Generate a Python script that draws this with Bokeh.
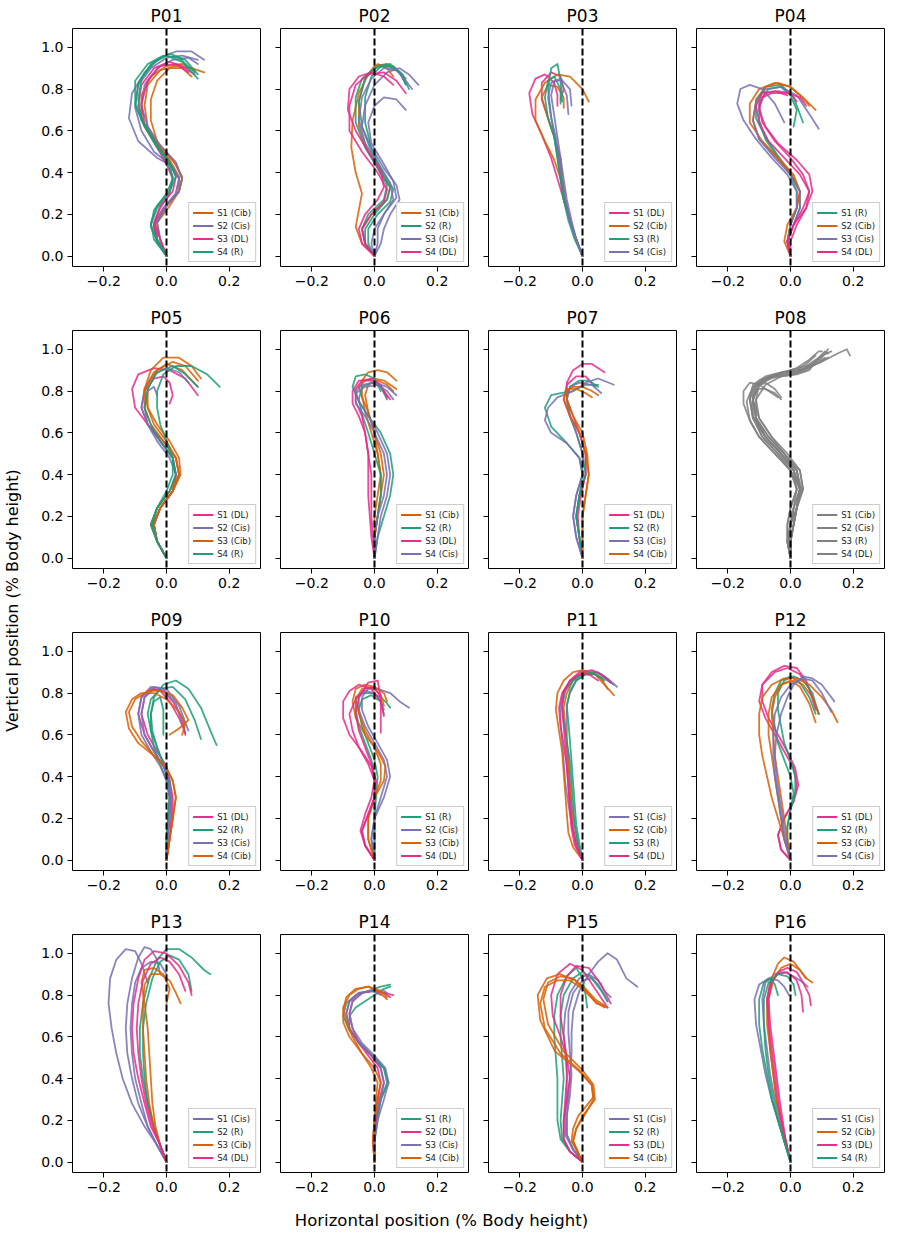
import math
from bokeh.plotting import figure
from bokeh.layouts import gridplot, row, column
from bokeh.models import (Span, Legend, LegendItem, FixedTicker, Range1d,
                          CustomJSTickFormatter, Label)
from bokeh.embed import file_html
from bokeh.resources import INLINE

# ---------------- data ----------------
# each trial: (session index, [(x, y), ...]) ; x, y in % body height

P01_SESSIONS = ["S1 (Cib)", "S2 (Cis)", "S3 (DL)", "S4 (R)"]
P01_TRIALS = [
    (0, [(0,0),(-0.03,0.07),(-0.04,0.15),(-0.01,0.23),(0.04,0.31),(0.05,0.37),(0.03,0.44),(-0.02,0.52),(-0.06,0.62),(-0.07,0.72),(-0.06,0.82),(-0.02,0.89),(0.03,0.91),(0.08,0.9),(0.12,0.88)]),
    (0, [(0,0),(-0.02,0.08),(-0.03,0.16),(0.0,0.24),(0.04,0.31),(0.05,0.38),(0.02,0.46),(-0.03,0.55),(-0.05,0.65),(-0.05,0.75),(-0.03,0.84),(0.01,0.9),(0.05,0.9),(0.08,0.86)]),
    (0, [(0,0),(-0.03,0.08),(-0.03,0.16),(0.01,0.24),(0.04,0.31),(0.04,0.38),(0.01,0.46),(-0.04,0.56),(-0.08,0.66),(-0.08,0.77),(-0.05,0.86),(0.0,0.91),(0.05,0.92),(0.09,0.89)]),
    (1, [(0,0),(-0.03,0.07),(-0.04,0.14),(-0.01,0.22),(0.03,0.3),(0.04,0.37),(0.02,0.43),(-0.03,0.47),(-0.09,0.55),(-0.12,0.66),(-0.11,0.78),(-0.07,0.88),(-0.02,0.95),(0.03,0.98),(0.08,0.98),(0.12,0.94)]),
    (1, [(0,0),(-0.03,0.08),(-0.04,0.15),(-0.01,0.23),(0.03,0.3),(0.04,0.37),(0.01,0.44),(-0.04,0.5),(-0.08,0.6),(-0.1,0.71),(-0.09,0.82),(-0.05,0.9),(0.0,0.95),(0.05,0.96),(0.1,0.94)]),
    (1, [(0,0),(-0.02,0.08),(-0.03,0.16),(0.0,0.24),(0.04,0.31),(0.05,0.37),(0.03,0.45),(-0.02,0.53),(-0.06,0.62),(-0.08,0.72),(-0.07,0.82),(-0.03,0.9),(0.02,0.94),(0.07,0.95),(0.1,0.92)]),
    (2, [(0,0),(-0.03,0.08),(-0.04,0.15),(-0.02,0.23),(0.01,0.3),(0.02,0.37),(0.0,0.44),(-0.03,0.52),(-0.07,0.62),(-0.09,0.72),(-0.08,0.82),(-0.04,0.9),(0.01,0.93),(0.05,0.91),(0.09,0.87)]),
    (2, [(0,0),(-0.02,0.08),(-0.04,0.16),(-0.02,0.24),(0.02,0.31),(0.03,0.38),(0.01,0.45),(-0.03,0.53),(-0.07,0.63),(-0.08,0.73),(-0.06,0.84),(-0.02,0.91),(0.03,0.92),(0.07,0.88)]),
    (3, [(0,0),(-0.03,0.07),(-0.05,0.14),(-0.04,0.22),(0.0,0.3),(0.02,0.37),(0.01,0.44),(-0.03,0.52),(-0.07,0.62),(-0.1,0.72),(-0.09,0.83),(-0.05,0.92),(0.0,0.96),(0.05,0.93),(0.1,0.85)]),
    (3, [(0,0),(-0.03,0.08),(-0.05,0.15),(-0.03,0.23),(0.01,0.31),(0.03,0.38),(0.01,0.45),(-0.03,0.53),(-0.07,0.63),(-0.1,0.73),(-0.1,0.84),(-0.06,0.92),(-0.01,0.96),(0.04,0.95),(0.09,0.88)]),
    (3, [(0,0),(-0.04,0.08),(-0.05,0.16),(-0.03,0.24),(0.01,0.31),(0.02,0.38),(0.0,0.46),(-0.04,0.55),(-0.08,0.65),(-0.09,0.75),(-0.08,0.85),(-0.04,0.93),(0.01,0.97),(0.06,0.94),(0.1,0.87)]),
]

P02_SESSIONS = ["S1 (Cib)", "S2 (R)", "S3 (Cis)", "S4 (DL)"]
P02_TRIALS = [
    (0, [(0,0),(-0.04,0.06),(-0.06,0.14),(-0.05,0.22),(-0.04,0.3),(-0.06,0.4),(-0.074,0.52),(-0.07,0.65),(-0.05,0.78),(-0.02,0.87),(0.01,0.92),(0.04,0.9),(0.06,0.86)]),
    (0, [(0,0),(-0.03,0.06),(-0.04,0.13),(-0.01,0.2),(0.04,0.27),(0.05,0.33),(0.02,0.4),(-0.02,0.5),(-0.05,0.62),(-0.05,0.74),(-0.03,0.85),(0.0,0.91),(0.04,0.92),(0.08,0.88),(0.1,0.83)]),
    (1, [(0,0),(-0.02,0.06),(-0.02,0.13),(0.01,0.2),(0.05,0.26),(0.06,0.32),(0.03,0.4),(-0.01,0.5),(-0.04,0.62),(-0.05,0.74),(-0.03,0.85),(0.01,0.91),(0.05,0.92),(0.08,0.88),(0.1,0.82)]),
    (1, [(0,0),(-0.03,0.06),(-0.03,0.13),(0.0,0.2),(0.04,0.27),(0.05,0.33),(0.02,0.41),(-0.01,0.52),(-0.03,0.64),(-0.03,0.76),(-0.01,0.86),(0.02,0.91),(0.06,0.91),(0.09,0.87),(0.11,0.8)]),
    (1, [(0,0),(-0.03,0.06),(-0.04,0.13),(-0.02,0.2),(0.03,0.27),(0.04,0.34),(0.01,0.42),(-0.03,0.52),(-0.06,0.64),(-0.06,0.76),(-0.04,0.85),(0.0,0.9),(0.04,0.91),(0.07,0.89),(0.1,0.85)]),
    (2, [(0,0),(0.02,0.06),(0.03,0.13),(0.05,0.2),(0.08,0.27),(0.07,0.34),(0.03,0.42),(-0.01,0.52),(-0.04,0.62),(-0.03,0.72),(0.0,0.82),(0.04,0.88),(0.08,0.9),(0.11,0.87),(0.14,0.82)]),
    (2, [(0,0),(-0.01,0.06),(0.0,0.13),(0.03,0.2),(0.07,0.28),(0.06,0.36),(0.03,0.44),(-0.01,0.54),(-0.02,0.64),(0.0,0.72),(0.03,0.76),(0.07,0.75),(0.1,0.7)]),
    (2, [(0,0),(0.01,0.06),(0.01,0.13),(0.03,0.2),(0.06,0.27),(0.05,0.35),(0.01,0.44),(-0.03,0.54),(-0.05,0.65),(-0.04,0.76),(-0.01,0.85),(0.03,0.9),(0.07,0.89),(0.1,0.84),(0.12,0.8)]),
    (3, [(0,0),(-0.03,0.06),(-0.04,0.13),(-0.01,0.2),(0.03,0.26),(0.04,0.32),(0.01,0.4),(-0.04,0.5),(-0.08,0.6),(-0.08,0.72),(-0.06,0.82),(-0.02,0.87),(0.03,0.88),(0.07,0.84),(0.1,0.78)]),
    (3, [(0,0),(-0.04,0.06),(-0.05,0.13),(-0.03,0.2),(0.01,0.27),(0.03,0.33),(0.02,0.41),(-0.02,0.5),(-0.06,0.6),(-0.085,0.7),(-0.08,0.8),(-0.05,0.86),(-0.01,0.88),(0.03,0.86),(0.06,0.82)]),
]

P03_SESSIONS = ["S1 (DL)", "S2 (Cib)", "S3 (R)", "S4 (Cis)"]
P03_TRIALS = [
    (0, [(0,0),(-0.02,0.08),(-0.04,0.17),(-0.06,0.27),(-0.08,0.37),(-0.1,0.47),(-0.13,0.58),(-0.16,0.68),(-0.17,0.78),(-0.15,0.85),(-0.12,0.87),(-0.09,0.83),(-0.08,0.77),(-0.08,0.72)]),
    (0, [(0,0),(-0.02,0.08),(-0.04,0.17),(-0.055,0.27),(-0.065,0.37),(-0.07,0.47),(-0.09,0.57),(-0.11,0.66),(-0.13,0.75),(-0.13,0.83),(-0.1,0.88),(-0.07,0.86),(-0.06,0.8),(-0.07,0.75)]),
    (1, [(0,0),(-0.02,0.08),(-0.04,0.17),(-0.06,0.27),(-0.07,0.37),(-0.09,0.46),(-0.12,0.55),(-0.15,0.65),(-0.15,0.75),(-0.12,0.83),(-0.08,0.87),(-0.04,0.86),(0.0,0.8),(0.02,0.74)]),
    (1, [(0,0),(-0.02,0.08),(-0.04,0.17),(-0.055,0.27),(-0.065,0.37),(-0.075,0.47),(-0.09,0.57),(-0.11,0.66),(-0.13,0.76),(-0.11,0.82),(-0.08,0.81),(-0.06,0.76),(-0.06,0.71)]),
    (2, [(0,0),(-0.025,0.08),(-0.045,0.17),(-0.06,0.27),(-0.07,0.37),(-0.08,0.47),(-0.09,0.57),(-0.1,0.67),(-0.11,0.8),(-0.1,0.9),(-0.08,0.92),(-0.07,0.84),(-0.065,0.74)]),
    (2, [(0,0),(-0.02,0.08),(-0.04,0.17),(-0.06,0.27),(-0.07,0.37),(-0.08,0.47),(-0.09,0.57),(-0.11,0.66),(-0.12,0.76),(-0.11,0.84),(-0.09,0.86),(-0.07,0.8),(-0.07,0.73)]),
    (3, [(0,0),(-0.02,0.08),(-0.035,0.17),(-0.05,0.27),(-0.06,0.37),(-0.07,0.47),(-0.08,0.57),(-0.09,0.67),(-0.1,0.77),(-0.09,0.84),(-0.07,0.84),(-0.05,0.77),(-0.045,0.68)]),
    (3, [(0,0),(-0.02,0.08),(-0.04,0.17),(-0.055,0.27),(-0.065,0.37),(-0.075,0.47),(-0.085,0.57),(-0.1,0.66),(-0.11,0.76),(-0.1,0.83),(-0.07,0.85),(-0.04,0.8),(-0.035,0.72)]),
]

P04_SESSIONS = ["S1 (R)", "S2 (Cib)", "S3 (Cis)", "S4 (DL)"]
P04_TRIALS = [
    (0, [(0,0),(-0.01,0.07),(0.0,0.15),(0.02,0.23),(0.02,0.31),(0.0,0.39),(-0.04,0.47),(-0.08,0.56),(-0.1,0.65),(-0.1,0.74),(-0.07,0.8),(-0.03,0.81),(0.0,0.77),(0.02,0.7),(0.01,0.62)]),
    (0, [(0,0),(-0.01,0.07),(0.01,0.15),(0.03,0.23),(0.03,0.31),(0.0,0.4),(-0.04,0.48),(-0.08,0.57),(-0.11,0.66),(-0.11,0.75),(-0.08,0.81),(-0.03,0.82),(0.01,0.76),(0.04,0.64)]),
    (1, [(0,0),(-0.01,0.07),(0.0,0.15),(0.02,0.23),(0.03,0.31),(0.01,0.39),(-0.04,0.47),(-0.09,0.55),(-0.13,0.64),(-0.13,0.73),(-0.1,0.8),(-0.05,0.83),(0.0,0.81),(0.04,0.76),(0.08,0.7)]),
    (1, [(0,0),(-0.02,0.07),(-0.01,0.15),(0.02,0.23),(0.03,0.31),(0.0,0.4),(-0.05,0.48),(-0.1,0.56),(-0.12,0.65),(-0.11,0.74),(-0.08,0.81),(-0.04,0.83),(0.0,0.81),(0.03,0.77),(0.06,0.72)]),
    (2, [(0,0),(-0.01,0.07),(0.0,0.15),(0.02,0.23),(0.02,0.31),(-0.01,0.39),(-0.06,0.47),(-0.11,0.56),(-0.15,0.65),(-0.17,0.73),(-0.16,0.8),(-0.13,0.82),(-0.09,0.8),(-0.05,0.73),(-0.02,0.64)]),
    (2, [(0,0),(-0.01,0.07),(0.01,0.15),(0.03,0.23),(0.03,0.31),(0.0,0.39),(-0.05,0.47),(-0.1,0.56),(-0.12,0.65),(-0.11,0.74),(-0.08,0.8),(-0.03,0.81),(0.02,0.77),(0.06,0.68),(0.09,0.61)]),
    (3, [(0,0),(-0.01,0.07),(0.01,0.15),(0.05,0.23),(0.07,0.31),(0.06,0.39),(0.02,0.46),(-0.04,0.54),(-0.08,0.62),(-0.1,0.7),(-0.09,0.76),(-0.06,0.78),(-0.01,0.78),(0.03,0.76),(0.05,0.72)]),
    (3, [(0,0),(-0.01,0.07),(0.01,0.15),(0.04,0.23),(0.06,0.31),(0.04,0.39),(0.0,0.47),(-0.05,0.55),(-0.09,0.64),(-0.1,0.72),(-0.08,0.78),(-0.04,0.79),(0.0,0.78),(0.02,0.74)]),
    (3, [(0,0),(0.0,0.07),(0.02,0.15),(0.05,0.23),(0.06,0.31),(0.03,0.39),(-0.02,0.47),(-0.07,0.55),(-0.1,0.64),(-0.11,0.72),(-0.09,0.78),(-0.05,0.79),(-0.01,0.77)]),
]

P05_SESSIONS = ["S1 (DL)", "S2 (Cis)", "S3 (Cib)", "S4 (R)"]
P05_TRIALS = [
    (0, [(0,0),(-0.03,0.08),(-0.04,0.16),(-0.02,0.24),(0.02,0.32),(0.04,0.4),(0.03,0.48),(-0.01,0.56),(-0.06,0.64),(-0.1,0.72),(-0.11,0.81),(-0.09,0.88),(-0.04,0.91),(0.01,0.9),(0.06,0.86),(0.1,0.78)]),
    (0, [(0,0),(-0.03,0.08),(-0.04,0.16),(-0.02,0.24),(0.02,0.32),(0.03,0.4),(0.02,0.48),(-0.02,0.56),(-0.06,0.64),(-0.08,0.72),(-0.07,0.8),(-0.04,0.86),(-0.01,0.87),(0.01,0.84),(0.02,0.78),(0.01,0.74)]),
    (1, [(0,0),(-0.03,0.08),(-0.05,0.16),(-0.03,0.24),(0.01,0.32),(0.03,0.4),(0.02,0.48),(-0.02,0.56),(-0.06,0.64),(-0.08,0.72),(-0.07,0.81),(-0.04,0.88),(0.0,0.91),(0.04,0.89),(0.07,0.84)]),
    (1, [(0,0),(-0.03,0.08),(-0.04,0.16),(-0.02,0.24),(0.02,0.32),(0.03,0.4),(0.01,0.48),(-0.03,0.56),(-0.06,0.64),(-0.07,0.72),(-0.06,0.8),(-0.04,0.82),(-0.03,0.78)]),
    (2, [(0,0),(-0.03,0.08),(-0.04,0.16),(-0.02,0.24),(0.02,0.32),(0.045,0.4),(0.04,0.48),(0.01,0.56),(-0.03,0.64),(-0.06,0.72),(-0.07,0.81),(-0.05,0.9),(-0.01,0.96),(0.04,0.96),(0.08,0.92),(0.11,0.86)]),
    (2, [(0,0),(-0.03,0.08),(-0.05,0.16),(-0.03,0.24),(0.01,0.32),(0.04,0.4),(0.03,0.48),(-0.01,0.56),(-0.05,0.64),(-0.07,0.72),(-0.07,0.81),(-0.04,0.89),(0.0,0.93),(0.05,0.9),(0.1,0.82)]),
    (2, [(0,0),(-0.03,0.08),(-0.045,0.16),(-0.02,0.24),(0.02,0.32),(0.04,0.4),(0.03,0.48),(0.0,0.56),(-0.04,0.64),(-0.06,0.72),(-0.06,0.81),(-0.03,0.9),(0.02,0.94),(0.06,0.92),(0.1,0.85)]),
    (3, [(0,0),(-0.03,0.08),(-0.045,0.16),(-0.03,0.24),(0.0,0.32),(0.02,0.4),(0.02,0.48),(0.0,0.56),(-0.02,0.64),(-0.03,0.72),(-0.03,0.8),(-0.01,0.88),(0.03,0.92),(0.08,0.92),(0.13,0.88),(0.17,0.82)]),
    (3, [(0,0),(-0.03,0.08),(-0.05,0.16),(-0.03,0.24),(0.01,0.32),(0.03,0.4),(0.02,0.48),(-0.02,0.56),(-0.05,0.64),(-0.07,0.72),(-0.06,0.81),(-0.03,0.89),(0.02,0.92),(0.06,0.88),(0.1,0.82)]),
]

P06_SESSIONS = ["S1 (Cib)", "S2 (R)", "S3 (DL)", "S4 (Cis)"]
P06_TRIALS = [
    (0, [(0,0),(0.0,0.1),(0.01,0.2),(0.02,0.3),(0.02,0.4),(0.01,0.5),(-0.01,0.6),(-0.03,0.7),(-0.04,0.78),(-0.04,0.85),(-0.02,0.89),(0.01,0.9),(0.04,0.89),(0.07,0.85)]),
    (0, [(0,0),(0.0,0.1),(0.0,0.2),(0.01,0.3),(0.02,0.4),(0.01,0.5),(0.0,0.6),(-0.02,0.7),(-0.04,0.77),(-0.05,0.82),(-0.03,0.85),(0.0,0.86),(0.03,0.85),(0.07,0.81)]),
    (0, [(0,0),(0.0,0.1),(0.01,0.2),(0.02,0.3),(0.03,0.4),(0.02,0.5),(0.0,0.6),(-0.02,0.7),(-0.03,0.78),(-0.02,0.83),(0.01,0.85),(0.04,0.83),(0.06,0.8)]),
    (1, [(0,0),(0.01,0.1),(0.03,0.2),(0.05,0.3),(0.06,0.4),(0.05,0.5),(0.02,0.6),(-0.02,0.68),(-0.05,0.75),(-0.07,0.82),(-0.06,0.87),(-0.03,0.88),(0.0,0.86),(0.02,0.8)]),
    (1, [(0,0),(0.0,0.1),(0.01,0.2),(0.02,0.3),(0.02,0.4),(0.0,0.5),(-0.02,0.6),(-0.04,0.69),(-0.05,0.76),(-0.04,0.82),(-0.01,0.84),(0.02,0.82),(0.04,0.76)]),
    (2, [(0,0),(-0.01,0.1),(-0.015,0.2),(-0.02,0.3),(-0.02,0.4),(-0.02,0.5),(-0.03,0.6),(-0.04,0.68),(-0.06,0.75),(-0.06,0.81),(-0.04,0.85),(-0.01,0.86),(0.02,0.83),(0.04,0.77)]),
    (2, [(0,0),(-0.005,0.1),(-0.01,0.2),(-0.01,0.3),(-0.01,0.4),(-0.02,0.5),(-0.03,0.6),(-0.05,0.68),(-0.07,0.74),(-0.07,0.8),(-0.05,0.85),(-0.01,0.85),(0.02,0.82),(0.05,0.76)]),
    (3, [(0,0),(0.01,0.1),(0.02,0.2),(0.04,0.3),(0.05,0.4),(0.04,0.5),(0.01,0.6),(-0.02,0.68),(-0.05,0.75),(-0.06,0.8),(-0.04,0.83),(0.0,0.84),(0.04,0.82),(0.07,0.78)]),
    (3, [(0,0),(0.0,0.1),(0.01,0.2),(0.03,0.3),(0.04,0.4),(0.03,0.5),(0.0,0.6),(-0.03,0.68),(-0.06,0.74),(-0.06,0.79),(-0.03,0.82),(0.01,0.83),(0.04,0.8),(0.06,0.76)]),
]

P07_SESSIONS = ["S1 (DL)", "S2 (R)", "S3 (Cis)", "S4 (Cib)"]
P07_TRIALS = [
    (0, [(0,0),(-0.01,0.1),(-0.02,0.2),(-0.01,0.3),(0.01,0.4),(0.01,0.5),(-0.01,0.6),(-0.03,0.68),(-0.05,0.76),(-0.05,0.84),(-0.03,0.9),(0.0,0.93),(0.03,0.93),(0.07,0.89)]),
    (0, [(0,0),(-0.01,0.1),(-0.015,0.2),(-0.005,0.3),(0.01,0.4),(0.01,0.5),(-0.01,0.6),(-0.04,0.68),(-0.06,0.76),(-0.05,0.83),(-0.02,0.87),(0.01,0.87),(0.04,0.82)]),
    (1, [(0,0),(-0.01,0.1),(-0.02,0.2),(-0.01,0.3),(0.0,0.4),(-0.01,0.48),(-0.05,0.55),(-0.1,0.63),(-0.12,0.72),(-0.1,0.78),(-0.07,0.79),(-0.03,0.8),(0.01,0.83),(0.05,0.83)]),
    (1, [(0,0),(-0.01,0.1),(-0.02,0.2),(-0.01,0.3),(0.01,0.4),(0.0,0.5),(-0.02,0.6),(-0.04,0.68),(-0.05,0.76),(-0.04,0.82),(-0.01,0.85),(0.02,0.85),(0.05,0.82)]),
    (2, [(0,0),(-0.02,0.1),(-0.03,0.2),(-0.02,0.3),(0.0,0.4),(-0.01,0.48),(-0.05,0.55),(-0.1,0.6),(-0.12,0.66),(-0.11,0.72),(-0.08,0.77),(-0.03,0.8),(0.01,0.84),(0.05,0.86),(0.1,0.83)]),
    (2, [(0,0),(-0.02,0.1),(-0.03,0.2),(-0.02,0.3),(0.0,0.4),(0.0,0.5),(-0.02,0.6),(-0.04,0.68),(-0.05,0.76),(-0.04,0.82),(-0.01,0.84),(0.03,0.83),(0.06,0.79)]),
    (3, [(0,0),(0.0,0.1),(0.0,0.2),(0.01,0.3),(0.02,0.4),(0.015,0.5),(0.0,0.6),(-0.03,0.68),(-0.05,0.76),(-0.05,0.8),(-0.03,0.82),(0.0,0.82),(0.03,0.8),(0.05,0.78)]),
    (3, [(0,0),(0.0,0.1),(0.0,0.2),(0.01,0.3),(0.02,0.4),(0.01,0.5),(-0.01,0.6),(-0.04,0.68),(-0.06,0.76),(-0.05,0.81),(-0.02,0.81),(0.01,0.79),(0.03,0.77)]),
]

P08_SESSIONS = ["S1 (Cib)", "S2 (Cis)", "S3 (R)", "S4 (DL)"]
P08_TRIALS = [
    (0, [(0,0),(0.0,0.08),(0.01,0.16),(0.02,0.24),(0.035,0.33),(0.02,0.42),(-0.03,0.5),(-0.08,0.58),(-0.12,0.68),(-0.13,0.78),(-0.1,0.85),(-0.05,0.88),(0.0,0.9),(0.05,0.92),(0.09,0.96),(0.11,0.99),(0.12,0.98)]),
    (0, [(0,0),(-0.01,0.08),(0.0,0.16),(0.01,0.24),(0.03,0.33),(0.01,0.42),(-0.04,0.5),(-0.09,0.58),(-0.12,0.68),(-0.12,0.78),(-0.09,0.85),(-0.04,0.88),(0.0,0.89),(0.05,0.91),(0.1,0.94),(0.15,0.98),(0.18,1.0),(0.19,0.97)]),
    (0, [(0,0),(-0.01,0.08),(0.0,0.16),(0.02,0.24),(0.03,0.33),(0.0,0.42),(-0.05,0.5),(-0.1,0.58),(-0.13,0.66),(-0.15,0.74),(-0.15,0.8),(-0.13,0.84),(-0.1,0.83),(-0.07,0.8),(-0.04,0.77)]),
    (1, [(0,0),(0.0,0.08),(0.01,0.16),(0.02,0.24),(0.04,0.33),(0.03,0.42),(-0.02,0.5),(-0.07,0.58),(-0.11,0.67),(-0.12,0.76),(-0.1,0.83),(-0.06,0.87),(-0.02,0.89),(0.02,0.91),(0.06,0.95),(0.09,0.99),(0.1,0.99)]),
    (1, [(0,0),(-0.01,0.08),(-0.01,0.16),(0.0,0.24),(0.02,0.33),(0.01,0.42),(-0.03,0.5),(-0.08,0.58),(-0.11,0.67),(-0.12,0.75),(-0.11,0.81),(-0.08,0.81),(-0.05,0.79),(-0.03,0.76)]),
    (1, [(0,0),(0.0,0.08),(0.01,0.16),(0.02,0.24),(0.03,0.33),(0.02,0.42),(-0.02,0.5),(-0.07,0.58),(-0.11,0.67),(-0.12,0.76),(-0.1,0.83),(-0.05,0.87),(0.0,0.88),(0.04,0.9),(0.08,0.93),(0.12,0.96)]),
    (2, [(0,0),(-0.01,0.08),(0.0,0.16),(0.01,0.24),(0.02,0.33),(0.0,0.42),(-0.04,0.5),(-0.09,0.58),(-0.12,0.67),(-0.13,0.76),(-0.11,0.83),(-0.07,0.87),(-0.02,0.89),(0.03,0.9),(0.07,0.93),(0.1,0.97),(0.13,0.99)]),
    (2, [(0,0),(0.0,0.08),(0.0,0.16),(0.01,0.24),(0.03,0.33),(0.01,0.42),(-0.03,0.5),(-0.08,0.58),(-0.11,0.67),(-0.11,0.76),(-0.08,0.83),(-0.03,0.87),(0.02,0.88),(0.06,0.9),(0.08,0.94),(0.1,0.97)]),
    (2, [(0,0),(-0.01,0.08),(-0.01,0.16),(0.0,0.24),(0.02,0.33),(0.0,0.42),(-0.05,0.5),(-0.1,0.58),(-0.13,0.66),(-0.14,0.75),(-0.12,0.82),(-0.07,0.86),(-0.03,0.87),(0.01,0.88),(0.05,0.9),(0.08,0.93),(0.11,0.96)]),
    (3, [(0,0),(0.0,0.08),(0.01,0.16),(0.02,0.24),(0.03,0.33),(0.02,0.42),(-0.02,0.5),(-0.06,0.58),(-0.1,0.67),(-0.11,0.76),(-0.1,0.83),(-0.06,0.87),(-0.02,0.88),(0.02,0.89),(0.06,0.92),(0.1,0.96),(0.12,1.0)]),
    (3, [(0,0),(-0.005,0.08),(0.0,0.16),(0.02,0.24),(0.04,0.33),(0.03,0.42),(-0.01,0.5),(-0.06,0.58),(-0.1,0.67),(-0.12,0.76),(-0.11,0.82),(-0.08,0.84),(-0.05,0.81),(-0.03,0.77)]),
    (3, [(0,0),(0.0,0.08),(0.01,0.16),(0.02,0.24),(0.03,0.33),(0.01,0.42),(-0.03,0.5),(-0.08,0.58),(-0.12,0.67),(-0.13,0.76),(-0.12,0.83),(-0.08,0.87),(-0.03,0.89),(0.02,0.9),(0.05,0.93),(0.08,0.97)]),
]

P09_SESSIONS = ["S1 (DL)", "S2 (R)", "S3 (Cis)", "S4 (Cib)"]
P09_TRIALS = [
    (0, [(0,0),(0.01,0.1),(0.015,0.2),(0.015,0.3),(0.01,0.38),(0.0,0.45),(-0.03,0.52),(-0.06,0.6),(-0.08,0.7),(-0.07,0.78),(-0.04,0.82),(-0.01,0.81),(0.02,0.76),(0.05,0.68),(0.06,0.6)]),
    (0, [(0,0),(0.01,0.1),(0.02,0.2),(0.02,0.3),(0.01,0.38),(-0.01,0.45),(-0.04,0.52),(-0.07,0.6),(-0.09,0.7),(-0.08,0.78),(-0.05,0.82),(-0.02,0.81),(0.01,0.76),(0.04,0.68),(0.06,0.61)]),
    (1, [(0,0),(0.0,0.1),(0.005,0.2),(0.01,0.3),(0.005,0.38),(-0.01,0.46),(-0.03,0.54),(-0.045,0.62),(-0.05,0.7),(-0.04,0.78),(-0.01,0.84),(0.03,0.86),(0.07,0.82),(0.11,0.73),(0.14,0.62),(0.16,0.55)]),
    (1, [(0,0),(0.0,0.1),(0.005,0.2),(0.01,0.3),(0.005,0.38),(-0.01,0.46),(-0.03,0.54),(-0.05,0.62),(-0.06,0.7),(-0.05,0.77),(-0.02,0.82),(0.02,0.83),(0.06,0.77),(0.09,0.67),(0.11,0.58)]),
    (1, [(0,0),(0.0,0.1),(0.005,0.2),(0.01,0.3),(0.0,0.38),(-0.02,0.46),(-0.04,0.54),(-0.05,0.62),(-0.05,0.7),(-0.04,0.76),(-0.02,0.78),(-0.01,0.72),(-0.01,0.6)]),
    (2, [(0,0),(0.005,0.1),(0.01,0.2),(0.015,0.3),(0.01,0.38),(-0.01,0.45),(-0.04,0.52),(-0.07,0.6),(-0.08,0.7),(-0.07,0.78),(-0.04,0.83),(0.0,0.82),(0.04,0.74),(0.07,0.62)]),
    (2, [(0,0),(0.005,0.1),(0.01,0.2),(0.01,0.3),(0.0,0.38),(-0.02,0.45),(-0.05,0.52),(-0.08,0.6),(-0.09,0.7),(-0.08,0.78),(-0.05,0.83),(-0.01,0.82),(0.03,0.75),(0.05,0.65)]),
    (3, [(0,0),(0.01,0.1),(0.02,0.2),(0.03,0.3),(0.02,0.38),(0.0,0.44),(-0.04,0.5),(-0.09,0.56),(-0.12,0.63),(-0.13,0.71),(-0.11,0.77),(-0.08,0.8),(-0.04,0.8),(0.0,0.77),(0.04,0.71),(0.06,0.65),(0.05,0.6)]),
    (3, [(0,0),(0.01,0.1),(0.02,0.2),(0.03,0.3),(0.02,0.38),(0.0,0.44),(-0.04,0.5),(-0.08,0.57),(-0.11,0.64),(-0.12,0.71),(-0.1,0.77),(-0.06,0.81),(-0.02,0.81),(0.02,0.79),(0.05,0.73),(0.07,0.67),(0.04,0.63),(0.01,0.6)]),
]

P10_SESSIONS = ["S1 (R)", "S2 (Cis)", "S3 (Cib)", "S4 (DL)"]
P10_TRIALS = [
    (0, [(0,0),(0.0,0.1),(0.0,0.2),(0.0,0.3),(0.0,0.4),(-0.01,0.48),(-0.03,0.56),(-0.05,0.64),(-0.06,0.72),(-0.06,0.78),(-0.04,0.8),(-0.01,0.8),(0.02,0.78),(0.04,0.75),(0.05,0.73)]),
    (0, [(0,0),(0.0,0.1),(0.0,0.2),(0.005,0.3),(0.01,0.4),(0.0,0.48),(-0.02,0.56),(-0.04,0.64),(-0.05,0.72),(-0.04,0.77),(-0.01,0.79),(0.02,0.76),(0.03,0.7)]),
    (1, [(0,0),(-0.01,0.1),(0.0,0.2),(0.03,0.3),(0.05,0.4),(0.04,0.48),(0.01,0.56),(-0.02,0.64),(-0.04,0.72),(-0.04,0.78),(-0.02,0.82),(0.01,0.82),(0.05,0.8),(0.08,0.76),(0.11,0.73)]),
    (1, [(0,0),(-0.01,0.1),(0.0,0.2),(0.02,0.3),(0.04,0.4),(0.03,0.48),(0.0,0.56),(-0.03,0.64),(-0.05,0.72),(-0.05,0.78),(-0.03,0.81),(0.0,0.8),(0.02,0.76),(0.03,0.72)]),
    (2, [(0,0),(-0.02,0.1),(-0.02,0.2),(0.0,0.3),(0.03,0.38),(0.035,0.45),(0.01,0.52),(-0.03,0.6),(-0.06,0.68),(-0.07,0.76),(-0.06,0.82),(-0.03,0.84),(0.0,0.83),(0.03,0.8),(0.04,0.76)]),
    (2, [(0,0),(-0.02,0.1),(-0.02,0.2),(0.0,0.3),(0.02,0.38),(0.02,0.46),(0.0,0.54),(-0.03,0.62),(-0.05,0.7),(-0.06,0.77),(-0.04,0.82),(-0.01,0.83),(0.02,0.79),(0.03,0.74)]),
    (3, [(0,0),(-0.03,0.07),(-0.04,0.14),(-0.02,0.22),(0.0,0.3),(0.005,0.38),(-0.01,0.45),(-0.04,0.52),(-0.08,0.6),(-0.1,0.68),(-0.1,0.76),(-0.08,0.81),(-0.05,0.84),(-0.01,0.82),(0.02,0.76),(0.03,0.69)]),
    (3, [(0,0),(-0.03,0.07),(-0.045,0.14),(-0.03,0.22),(-0.01,0.3),(0.0,0.38),(-0.01,0.46),(-0.03,0.54),(-0.05,0.62),(-0.06,0.7),(-0.05,0.78),(-0.02,0.85),(0.01,0.86),(0.02,0.78),(0.02,0.61)]),
    (3, [(0,0),(-0.03,0.07),(-0.04,0.14),(-0.02,0.22),(0.0,0.3),(0.0,0.38),(-0.02,0.46),(-0.05,0.54),(-0.07,0.62),(-0.08,0.7),(-0.06,0.77),(-0.03,0.82),(0.0,0.83),(0.02,0.78)]),
]

P11_SESSIONS = ["S1 (Cis)", "S2 (Cib)", "S3 (R)", "S4 (DL)"]
P11_TRIALS = [
    (0, [(0,0),(-0.02,0.08),(-0.035,0.17),(-0.045,0.27),(-0.055,0.37),(-0.06,0.47),(-0.065,0.57),(-0.07,0.66),(-0.07,0.74),(-0.06,0.81),(-0.03,0.87),(0.01,0.9),(0.05,0.9),(0.08,0.87),(0.11,0.83)]),
    (0, [(0,0),(-0.015,0.08),(-0.025,0.17),(-0.035,0.27),(-0.04,0.37),(-0.045,0.47),(-0.05,0.57),(-0.05,0.66),(-0.05,0.74),(-0.04,0.8),(-0.02,0.86),(0.01,0.89),(0.04,0.89),(0.07,0.87),(0.1,0.84)]),
    (1, [(0,0),(-0.03,0.06),(-0.045,0.13),(-0.05,0.22),(-0.055,0.32),(-0.06,0.42),(-0.065,0.52),(-0.075,0.62),(-0.085,0.72),(-0.08,0.8),(-0.06,0.86),(-0.03,0.9),(0.0,0.91),(0.04,0.89),(0.07,0.84),(0.1,0.79)]),
    (1, [(0,0),(-0.02,0.07),(-0.03,0.15),(-0.035,0.25),(-0.04,0.35),(-0.045,0.45),(-0.05,0.55),(-0.055,0.64),(-0.06,0.73),(-0.05,0.8),(-0.03,0.86),(0.0,0.9),(0.03,0.9),(0.06,0.87),(0.08,0.82)]),
    (2, [(0,0),(-0.01,0.08),(-0.02,0.17),(-0.025,0.27),(-0.03,0.37),(-0.035,0.47),(-0.04,0.57),(-0.045,0.66),(-0.05,0.74),(-0.04,0.81),(-0.02,0.86),(0.01,0.89),(0.04,0.89),(0.07,0.86)]),
    (2, [(0,0),(-0.015,0.08),(-0.025,0.17),(-0.03,0.27),(-0.035,0.37),(-0.04,0.47),(-0.05,0.57),(-0.06,0.66),(-0.065,0.74),(-0.055,0.81),(-0.03,0.86),(0.0,0.89),(0.04,0.9),(0.07,0.88),(0.09,0.85)]),
    (3, [(0,0),(-0.02,0.07),(-0.03,0.15),(-0.04,0.25),(-0.045,0.35),(-0.05,0.45),(-0.055,0.55),(-0.06,0.64),(-0.065,0.73),(-0.06,0.8),(-0.04,0.86),(-0.01,0.9),(0.03,0.91),(0.06,0.89),(0.09,0.85)]),
    (3, [(0,0),(-0.025,0.07),(-0.035,0.15),(-0.04,0.25),(-0.045,0.35),(-0.05,0.45),(-0.06,0.55),(-0.07,0.64),(-0.075,0.73),(-0.065,0.8),(-0.04,0.86),(-0.01,0.89),(0.02,0.89),(0.05,0.86)]),
]

P12_SESSIONS = ["S1 (DL)", "S2 (R)", "S3 (Cib)", "S4 (Cis)"]
P12_TRIALS = [
    (0, [(0,0),(-0.03,0.05),(-0.04,0.12),(-0.02,0.2),(0.01,0.28),(0.025,0.36),(0.015,0.44),(-0.01,0.52),(-0.04,0.6),(-0.07,0.68),(-0.09,0.76),(-0.09,0.84),(-0.06,0.9),(-0.02,0.93),(0.02,0.92),(0.05,0.86),(0.07,0.78),(0.09,0.7)]),
    (0, [(0,0),(-0.03,0.05),(-0.04,0.12),(-0.02,0.2),(0.01,0.28),(0.02,0.36),(0.01,0.44),(-0.02,0.52),(-0.05,0.6),(-0.08,0.68),(-0.1,0.76),(-0.09,0.84),(-0.05,0.9),(-0.01,0.92),(0.03,0.89),(0.06,0.82),(0.08,0.72)]),
    (1, [(0,0),(-0.01,0.08),(-0.01,0.16),(0.0,0.24),(0.015,0.32),(0.015,0.4),(0.0,0.48),(-0.02,0.56),(-0.03,0.64),(-0.04,0.72),(-0.04,0.8),(-0.02,0.86),(0.01,0.88),(0.04,0.86),(0.07,0.8),(0.09,0.7)]),
    (1, [(0,0),(-0.01,0.08),(-0.01,0.16),(0.0,0.24),(0.01,0.32),(0.0,0.4),(-0.02,0.48),(-0.04,0.56),(-0.05,0.64),(-0.06,0.72),(-0.05,0.8),(-0.03,0.86),(0.0,0.88),(0.03,0.85),(0.06,0.78),(0.08,0.7)]),
    (2, [(0,0),(-0.02,0.1),(-0.04,0.2),(-0.06,0.3),(-0.075,0.4),(-0.09,0.5),(-0.1,0.6),(-0.1,0.7),(-0.09,0.78),(-0.06,0.84),(-0.02,0.87),(0.02,0.87),(0.06,0.84),(0.1,0.78),(0.13,0.72),(0.15,0.66)]),
    (2, [(0,0),(-0.01,0.1),(-0.02,0.2),(-0.03,0.3),(-0.04,0.4),(-0.05,0.5),(-0.055,0.6),(-0.06,0.7),(-0.05,0.78),(-0.03,0.84),(0.0,0.86),(0.03,0.83),(0.06,0.75),(0.08,0.66)]),
    (2, [(0,0),(-0.02,0.1),(-0.03,0.2),(-0.04,0.3),(-0.05,0.4),(-0.06,0.5),(-0.07,0.6),(-0.07,0.7),(-0.06,0.78),(-0.03,0.84),(0.01,0.86),(0.04,0.84),(0.07,0.78),(0.09,0.7)]),
    (3, [(0,0),(-0.015,0.1),(-0.025,0.2),(-0.035,0.3),(-0.045,0.4),(-0.05,0.5),(-0.045,0.6),(-0.03,0.7),(-0.01,0.78),(0.01,0.84),(0.04,0.88),(0.07,0.87),(0.1,0.84),(0.12,0.8),(0.14,0.76)]),
    (3, [(0,0),(-0.02,0.1),(-0.03,0.2),(-0.04,0.3),(-0.05,0.4),(-0.055,0.5),(-0.055,0.6),(-0.05,0.7),(-0.03,0.78),(0.0,0.84),(0.04,0.87),(0.07,0.86),(0.1,0.8),(0.13,0.71)]),
]

P13_SESSIONS = ["S1 (Cis)", "S2 (R)", "S3 (Cib)", "S4 (DL)"]
P13_TRIALS = [
    (0, [(0,0),(-0.03,0.08),(-0.07,0.17),(-0.11,0.28),(-0.14,0.4),(-0.16,0.52),(-0.175,0.64),(-0.185,0.76),(-0.18,0.88),(-0.16,0.97),(-0.13,1.02),(-0.1,1.01),(-0.08,0.95),(-0.06,0.86)]),
    (0, [(0,0),(-0.03,0.08),(-0.06,0.17),(-0.09,0.28),(-0.11,0.4),(-0.125,0.52),(-0.13,0.64),(-0.125,0.76),(-0.11,0.88),(-0.09,0.98),(-0.07,1.03),(-0.05,1.02),(-0.03,0.97),(-0.02,0.9)]),
    (0, [(0,0),(-0.03,0.08),(-0.06,0.17),(-0.08,0.28),(-0.1,0.4),(-0.11,0.52),(-0.115,0.64),(-0.11,0.76),(-0.1,0.86),(-0.08,0.93),(-0.05,0.96),(-0.02,0.95),(0.0,0.9)]),
    (1, [(0,0),(-0.02,0.08),(-0.04,0.17),(-0.06,0.28),(-0.075,0.4),(-0.085,0.52),(-0.085,0.64),(-0.075,0.76),(-0.055,0.88),(-0.03,0.97),(0.0,1.02),(0.04,1.02),(0.08,0.98),(0.12,0.92),(0.14,0.9)]),
    (1, [(0,0),(-0.02,0.08),(-0.04,0.17),(-0.06,0.28),(-0.07,0.4),(-0.075,0.52),(-0.075,0.64),(-0.065,0.76),(-0.045,0.88),(-0.02,0.96),(0.01,0.99),(0.04,0.97),(0.07,0.9),(0.08,0.82)]),
    (2, [(0,0),(-0.02,0.08),(-0.035,0.17),(-0.045,0.28),(-0.05,0.4),(-0.055,0.52),(-0.06,0.64),(-0.07,0.76),(-0.08,0.86),(-0.07,0.92),(-0.04,0.93),(-0.01,0.9),(0.01,0.83),(0.0,0.76)]),
    (2, [(0,0),(-0.02,0.08),(-0.04,0.17),(-0.055,0.28),(-0.065,0.4),(-0.07,0.52),(-0.075,0.64),(-0.075,0.76),(-0.07,0.85),(-0.05,0.9),(-0.02,0.9),(0.01,0.87),(0.03,0.81),(0.045,0.76)]),
    (3, [(0,0),(-0.02,0.08),(-0.05,0.17),(-0.07,0.28),(-0.09,0.4),(-0.105,0.52),(-0.11,0.64),(-0.105,0.76),(-0.09,0.88),(-0.07,0.97),(-0.04,1.01),(0.0,1.0),(0.04,0.94),(0.07,0.86),(0.08,0.8)]),
    (3, [(0,0),(-0.02,0.08),(-0.045,0.17),(-0.065,0.28),(-0.08,0.4),(-0.09,0.52),(-0.095,0.64),(-0.09,0.76),(-0.075,0.87),(-0.05,0.95),(-0.02,0.98),(0.01,0.96),(0.04,0.9),(0.06,0.82)]),
]

P14_SESSIONS = ["S1 (R)", "S2 (DL)", "S3 (Cis)", "S4 (Cib)"]
P14_TRIALS = [
    (0, [(0,0),(0.0,0.1),(0.005,0.2),(0.02,0.3),(0.04,0.38),(0.03,0.45),(0.0,0.5),(-0.04,0.56),(-0.08,0.63),(-0.1,0.7),(-0.09,0.76),(-0.06,0.8),(-0.02,0.82),(0.02,0.84),(0.05,0.85)]),
    (0, [(0,0),(0.0,0.1),(0.01,0.2),(0.02,0.3),(0.045,0.38),(0.03,0.45),(-0.01,0.51),(-0.05,0.57),(-0.08,0.64),(-0.08,0.7),(-0.06,0.74),(-0.03,0.77),(0.0,0.8),(0.03,0.83),(0.05,0.84)]),
    (1, [(0,0),(0.0,0.1),(0.005,0.2),(0.015,0.3),(0.03,0.38),(0.02,0.45),(-0.01,0.51),(-0.05,0.57),(-0.08,0.64),(-0.09,0.71),(-0.08,0.77),(-0.05,0.81),(-0.01,0.82),(0.03,0.81),(0.06,0.8)]),
    (1, [(0,0),(-0.005,0.1),(0.0,0.2),(0.01,0.3),(0.02,0.38),(0.01,0.45),(-0.02,0.51),(-0.05,0.57),(-0.07,0.64),(-0.08,0.71),(-0.07,0.77),(-0.04,0.81),(0.0,0.82),(0.03,0.81),(0.05,0.79)]),
    (2, [(0,0),(0.0,0.1),(0.01,0.2),(0.03,0.3),(0.045,0.38),(0.035,0.45),(0.0,0.51),(-0.04,0.57),(-0.07,0.64),(-0.08,0.71),(-0.07,0.77),(-0.04,0.81),(0.0,0.82),(0.03,0.82),(0.04,0.81)]),
    (2, [(0,0),(0.0,0.1),(0.0,0.2),(0.02,0.3),(0.03,0.38),(0.02,0.45),(-0.01,0.51),(-0.05,0.57),(-0.08,0.64),(-0.09,0.71),(-0.08,0.77),(-0.05,0.81),(-0.01,0.82),(0.02,0.8)]),
    (3, [(0,0),(-0.005,0.1),(0.0,0.2),(0.01,0.3),(0.02,0.38),(0.0,0.45),(-0.04,0.52),(-0.08,0.6),(-0.1,0.67),(-0.1,0.73),(-0.09,0.79),(-0.06,0.83),(-0.02,0.84),(0.01,0.82),(0.04,0.78)]),
    (3, [(0,0),(-0.005,0.1),(0.0,0.2),(0.005,0.3),(0.01,0.38),(-0.01,0.45),(-0.04,0.52),(-0.07,0.6),(-0.09,0.67),(-0.1,0.74),(-0.08,0.8),(-0.05,0.83),(-0.02,0.84),(0.02,0.82),(0.04,0.79)]),
]

P15_SESSIONS = ["S1 (Cis)", "S2 (R)", "S3 (DL)", "S4 (Cib)"]
P15_TRIALS = [
    (0, [(0,0),(-0.03,0.06),(-0.05,0.13),(-0.05,0.22),(-0.045,0.32),(-0.04,0.42),(-0.035,0.52),(-0.035,0.62),(-0.03,0.72),(-0.01,0.82),(0.02,0.9),(0.05,0.96),(0.08,1.0),(0.11,0.97),(0.14,0.88),(0.175,0.84)]),
    (0, [(0,0),(-0.03,0.06),(-0.05,0.13),(-0.05,0.22),(-0.04,0.32),(-0.035,0.42),(-0.04,0.52),(-0.045,0.62),(-0.045,0.72),(-0.03,0.81),(0.0,0.87),(0.03,0.88),(0.05,0.85),(0.07,0.8),(0.08,0.77)]),
    (0, [(0,0),(-0.03,0.06),(-0.055,0.13),(-0.055,0.22),(-0.05,0.32),(-0.05,0.42),(-0.055,0.52),(-0.06,0.62),(-0.055,0.72),(-0.04,0.81),(-0.01,0.88),(0.02,0.9),(0.05,0.87),(0.07,0.82),(0.09,0.79)]),
    (1, [(0,0),(-0.04,0.05),(-0.07,0.11),(-0.08,0.2),(-0.08,0.3),(-0.08,0.4),(-0.085,0.5),(-0.09,0.6),(-0.09,0.7),(-0.08,0.8),(-0.05,0.89),(-0.02,0.93),(0.0,0.88),(0.01,0.8),(0.015,0.74)]),
    (1, [(0,0),(-0.04,0.05),(-0.065,0.11),(-0.07,0.2),(-0.065,0.3),(-0.06,0.4),(-0.065,0.5),(-0.07,0.6),(-0.07,0.7),(-0.06,0.8),(-0.03,0.88),(0.0,0.91),(0.03,0.88),(0.06,0.82),(0.08,0.77)]),
    (2, [(0,0),(-0.04,0.05),(-0.06,0.11),(-0.06,0.2),(-0.05,0.3),(-0.04,0.4),(-0.05,0.5),(-0.07,0.6),(-0.095,0.7),(-0.1,0.8),(-0.08,0.9),(-0.04,0.95),(0.0,0.92),(0.04,0.83),(0.08,0.74)]),
    (2, [(0,0),(-0.04,0.05),(-0.06,0.11),(-0.06,0.2),(-0.055,0.3),(-0.05,0.4),(-0.05,0.5),(-0.06,0.6),(-0.07,0.7),(-0.07,0.8),(-0.05,0.89),(-0.02,0.94),(0.02,0.93),(0.06,0.85),(0.09,0.76)]),
    (3, [(0,0),(-0.035,0.1),(-0.03,0.16),(-0.014,0.22),(0.034,0.31),(0.029,0.37),(-0.014,0.44),(-0.088,0.53),(-0.135,0.68),(-0.143,0.8),(-0.114,0.88),(-0.072,0.9),(-0.024,0.87),(0.018,0.81),(0.044,0.76),(0.08,0.74)]),
    (3, [(0,0),(-0.03,0.1),(-0.02,0.16),(0.0,0.22),(0.04,0.3),(0.035,0.37),(0.0,0.44),(-0.06,0.53),(-0.11,0.66),(-0.125,0.78),(-0.11,0.86),(-0.07,0.89),(-0.03,0.88),(0.01,0.83),(0.04,0.78),(0.07,0.75)]),
    (3, [(0,0),(-0.03,0.1),(-0.02,0.16),(0.005,0.22),(0.035,0.3),(0.03,0.37),(-0.01,0.44),(-0.07,0.52),(-0.12,0.64),(-0.135,0.76),(-0.12,0.84),(-0.08,0.87),(-0.04,0.87),(0.0,0.83),(0.04,0.77),(0.07,0.74)]),
]

P16_SESSIONS = ["S1 (Cis)", "S2 (Cib)", "S3 (DL)", "S4 (R)"]
P16_TRIALS = [
    (0, [(0,0),(-0.02,0.1),(-0.04,0.2),(-0.06,0.3),(-0.08,0.42),(-0.095,0.54),(-0.11,0.66),(-0.115,0.78),(-0.1,0.85),(-0.07,0.88),(-0.04,0.87),(-0.02,0.84),(-0.005,0.8)]),
    (0, [(0,0),(-0.02,0.1),(-0.035,0.2),(-0.05,0.3),(-0.065,0.42),(-0.075,0.54),(-0.085,0.66),(-0.09,0.78),(-0.08,0.86),(-0.05,0.9),(-0.02,0.91),(0.01,0.89),(0.04,0.86),(0.055,0.84)]),
    (1, [(0,0),(-0.015,0.1),(-0.03,0.2),(-0.045,0.3),(-0.055,0.42),(-0.065,0.54),(-0.075,0.66),(-0.075,0.78),(-0.06,0.88),(-0.04,0.95),(-0.02,0.98),(0.01,0.96),(0.03,0.92),(0.05,0.88)]),
    (1, [(0,0),(-0.015,0.1),(-0.03,0.2),(-0.045,0.3),(-0.055,0.42),(-0.065,0.54),(-0.07,0.66),(-0.07,0.78),(-0.055,0.87),(-0.03,0.93),(0.0,0.95),(0.03,0.92),(0.05,0.88),(0.07,0.86)]),
    (2, [(0,0),(-0.015,0.1),(-0.025,0.2),(-0.035,0.3),(-0.045,0.42),(-0.055,0.54),(-0.065,0.66),(-0.07,0.78),(-0.06,0.86),(-0.04,0.91),(-0.01,0.93),(0.02,0.91),(0.04,0.86),(0.06,0.8),(0.065,0.75)]),
    (2, [(0,0),(-0.015,0.1),(-0.03,0.2),(-0.04,0.3),(-0.05,0.42),(-0.06,0.54),(-0.07,0.66),(-0.075,0.78),(-0.065,0.86),(-0.04,0.9),(-0.01,0.91),(0.02,0.87),(0.035,0.8),(0.04,0.72)]),
    (3, [(0,0),(-0.02,0.1),(-0.04,0.2),(-0.06,0.3),(-0.075,0.42),(-0.09,0.54),(-0.1,0.66),(-0.1,0.78),(-0.085,0.86),(-0.065,0.88),(-0.05,0.85),(-0.04,0.8)]),
    (3, [(0,0),(-0.02,0.1),(-0.04,0.2),(-0.055,0.3),(-0.07,0.42),(-0.08,0.54),(-0.085,0.66),(-0.085,0.78),(-0.07,0.86),(-0.04,0.9),(-0.01,0.89),(0.01,0.85),(0.016,0.8)]),
]

PANELS = [
    ("P01", P01_SESSIONS, P01_TRIALS), ("P02", P02_SESSIONS, P02_TRIALS),
    ("P03", P03_SESSIONS, P03_TRIALS), ("P04", P04_SESSIONS, P04_TRIALS),
    ("P05", P05_SESSIONS, P05_TRIALS), ("P06", P06_SESSIONS, P06_TRIALS),
    ("P07", P07_SESSIONS, P07_TRIALS), ("P08", P08_SESSIONS, P08_TRIALS),
    ("P09", P09_SESSIONS, P09_TRIALS), ("P10", P10_SESSIONS, P10_TRIALS),
    ("P11", P11_SESSIONS, P11_TRIALS), ("P12", P12_SESSIONS, P12_TRIALS),
    ("P13", P13_SESSIONS, P13_TRIALS), ("P14", P14_SESSIONS, P14_TRIALS),
    ("P15", P15_SESSIONS, P15_TRIALS), ("P16", P16_SESSIONS, P16_TRIALS),
]
GREY_PANELS = ["P08"]
X_TICKS = [-0.2, 0.0, 0.2]
Y_TICKS = [0.0, 0.2, 0.4, 0.6, 0.8, 1.0]
X_LABEL = "Horizontal position (% Body height)"
Y_LABEL = "Vertical position (% Body height)"

# ---------------- styling ----------------
COND_COLORS = {"Cib": "#d95f02", "Cis": "#7570b3", "DL": "#e7298a", "R": "#1b9e77"}
GREY = "#808080"
FONT = "DejaVu Sans"
FW, FH = 188, 238
TOP, BOTTOM = 28, 36
YLAB_W = 24
LEFT0 = 48

fmt_num = CustomJSTickFormatter(code="return tick.toFixed(1).replace('-', '\u2212');")


def make_panel(i, name, sessions, trials):
    col = i % 4
    left = LEFT0 if col == 0 else 10
    right = 4 if col == 3 else 10
    p = figure(frame_width=FW, frame_height=FH,
               x_range=Range1d(-0.3, 0.3), y_range=Range1d(-0.05, 1.09),
               output_backend="svg", toolbar_location=None,
               min_border_left=left, min_border_right=right,
               min_border_top=TOP, min_border_bottom=BOTTOM,
               title=name)
    p.title.align = "center"
    p.title.text_font = FONT
    p.title.text_font_size = "17px"
    p.title.text_font_style = "normal"
    p.title.text_color = "black"
    p.title.standoff = 5
    p.grid.visible = False
    p.outline_line_color = "black"
    p.outline_line_width = 1
    p.outline_line_alpha = 1
    p.background_fill_color = "white"
    p.border_fill_color = "white"

    for ax in (p.xaxis[0], p.yaxis[0]):
        ax.axis_line_color = None
        ax.major_tick_line_color = "black"
        ax.major_tick_out = 5
        ax.major_tick_in = 0
        ax.minor_tick_line_color = None
        ax.major_label_text_font = FONT
        ax.major_label_text_font_size = "14px"
        ax.major_label_text_color = "black"
    p.xaxis[0].ticker = FixedTicker(ticks=X_TICKS)
    p.yaxis[0].ticker = FixedTicker(ticks=Y_TICKS)
    p.xaxis[0].formatter = fmt_num
    p.xaxis[0].major_label_standoff = 4
    if col == 0:
        p.yaxis[0].formatter = fmt_num
        p.yaxis[0].major_label_standoff = 4
    else:
        p.yaxis[0].formatter = CustomJSTickFormatter(code="return '';")
        p.yaxis[0].major_label_standoff = 1

    grey = name in GREY_PANELS
    rends = {k: [] for k in range(len(sessions))}
    for s, pts in trials:
        cond = sessions[s].split("(")[1].rstrip(")")
        color = GREY if grey else COND_COLORS[cond]
        xs = [pt[0] for pt in pts]
        ys = [pt[1] for pt in pts]
        r = p.line(xs, ys, line_color=color, line_width=1.8, line_alpha=0.85,
                   line_join="round", line_cap="round")
        rends[s].append(r)

    p.add_layout(Span(location=0, dimension="height", line_color="black",
                      line_dash="7 3", line_width=2))

    items = [LegendItem(label=lab, renderers=rends[k]) for k, lab in enumerate(sessions)]
    leg = Legend(items=items, location="bottom_right",
                 label_text_font=FONT, label_text_font_size="8.5px",
                 label_text_color="#222222",
                 glyph_width=20, glyph_height=11, label_height=11,
                 label_standoff=4, spacing=2, padding=4, margin=4,
                 border_line_color="#cccccc", border_line_alpha=1,
                 background_fill_color="white", background_fill_alpha=0.85)
    p.add_layout(leg)
    return p


figs = [make_panel(i, n, s, t) for i, (n, s, t) in enumerate(PANELS)]
grid = gridplot(figs, ncols=4, toolbar_location=None)

grid_h = 4 * (TOP + FH + BOTTOM)
ylab = figure(width=YLAB_W, height=grid_h, x_range=Range1d(0, 1), y_range=Range1d(0, 1),
              output_backend="svg", toolbar_location=None, min_border=0)
ylab.axis.visible = False
ylab.grid.visible = False
ylab.outline_line_color = None
ylab.add_layout(Label(x=YLAB_W / 2, y=BOTTOM + (grid_h - TOP - BOTTOM) / 2,
                      x_units="screen", y_units="screen", text=Y_LABEL, angle=math.pi / 2,
                      text_align="center", text_baseline="middle",
                      text_font=FONT, text_font_size="16px", text_color="black"))

total_w = YLAB_W + (LEFT0 + FW + 10) + 2 * (10 + FW + 10) + (10 + FW + 4)
xlab = figure(width=total_w, height=24, x_range=Range1d(0, 1), y_range=Range1d(0, 1),
              output_backend="svg", toolbar_location=None, min_border=0)
xlab.axis.visible = False
xlab.grid.visible = False
xlab.outline_line_color = None
xlab.add_layout(Label(x=441, y=12, x_units="screen", y_units="screen", text=X_LABEL,
                      text_align="center", text_baseline="middle",
                      text_font=FONT, text_font_size="16.5px", text_color="black"))

layout = column(row(ylab, grid), xlab)
open("out.html", "w").write(file_html(layout, INLINE))
